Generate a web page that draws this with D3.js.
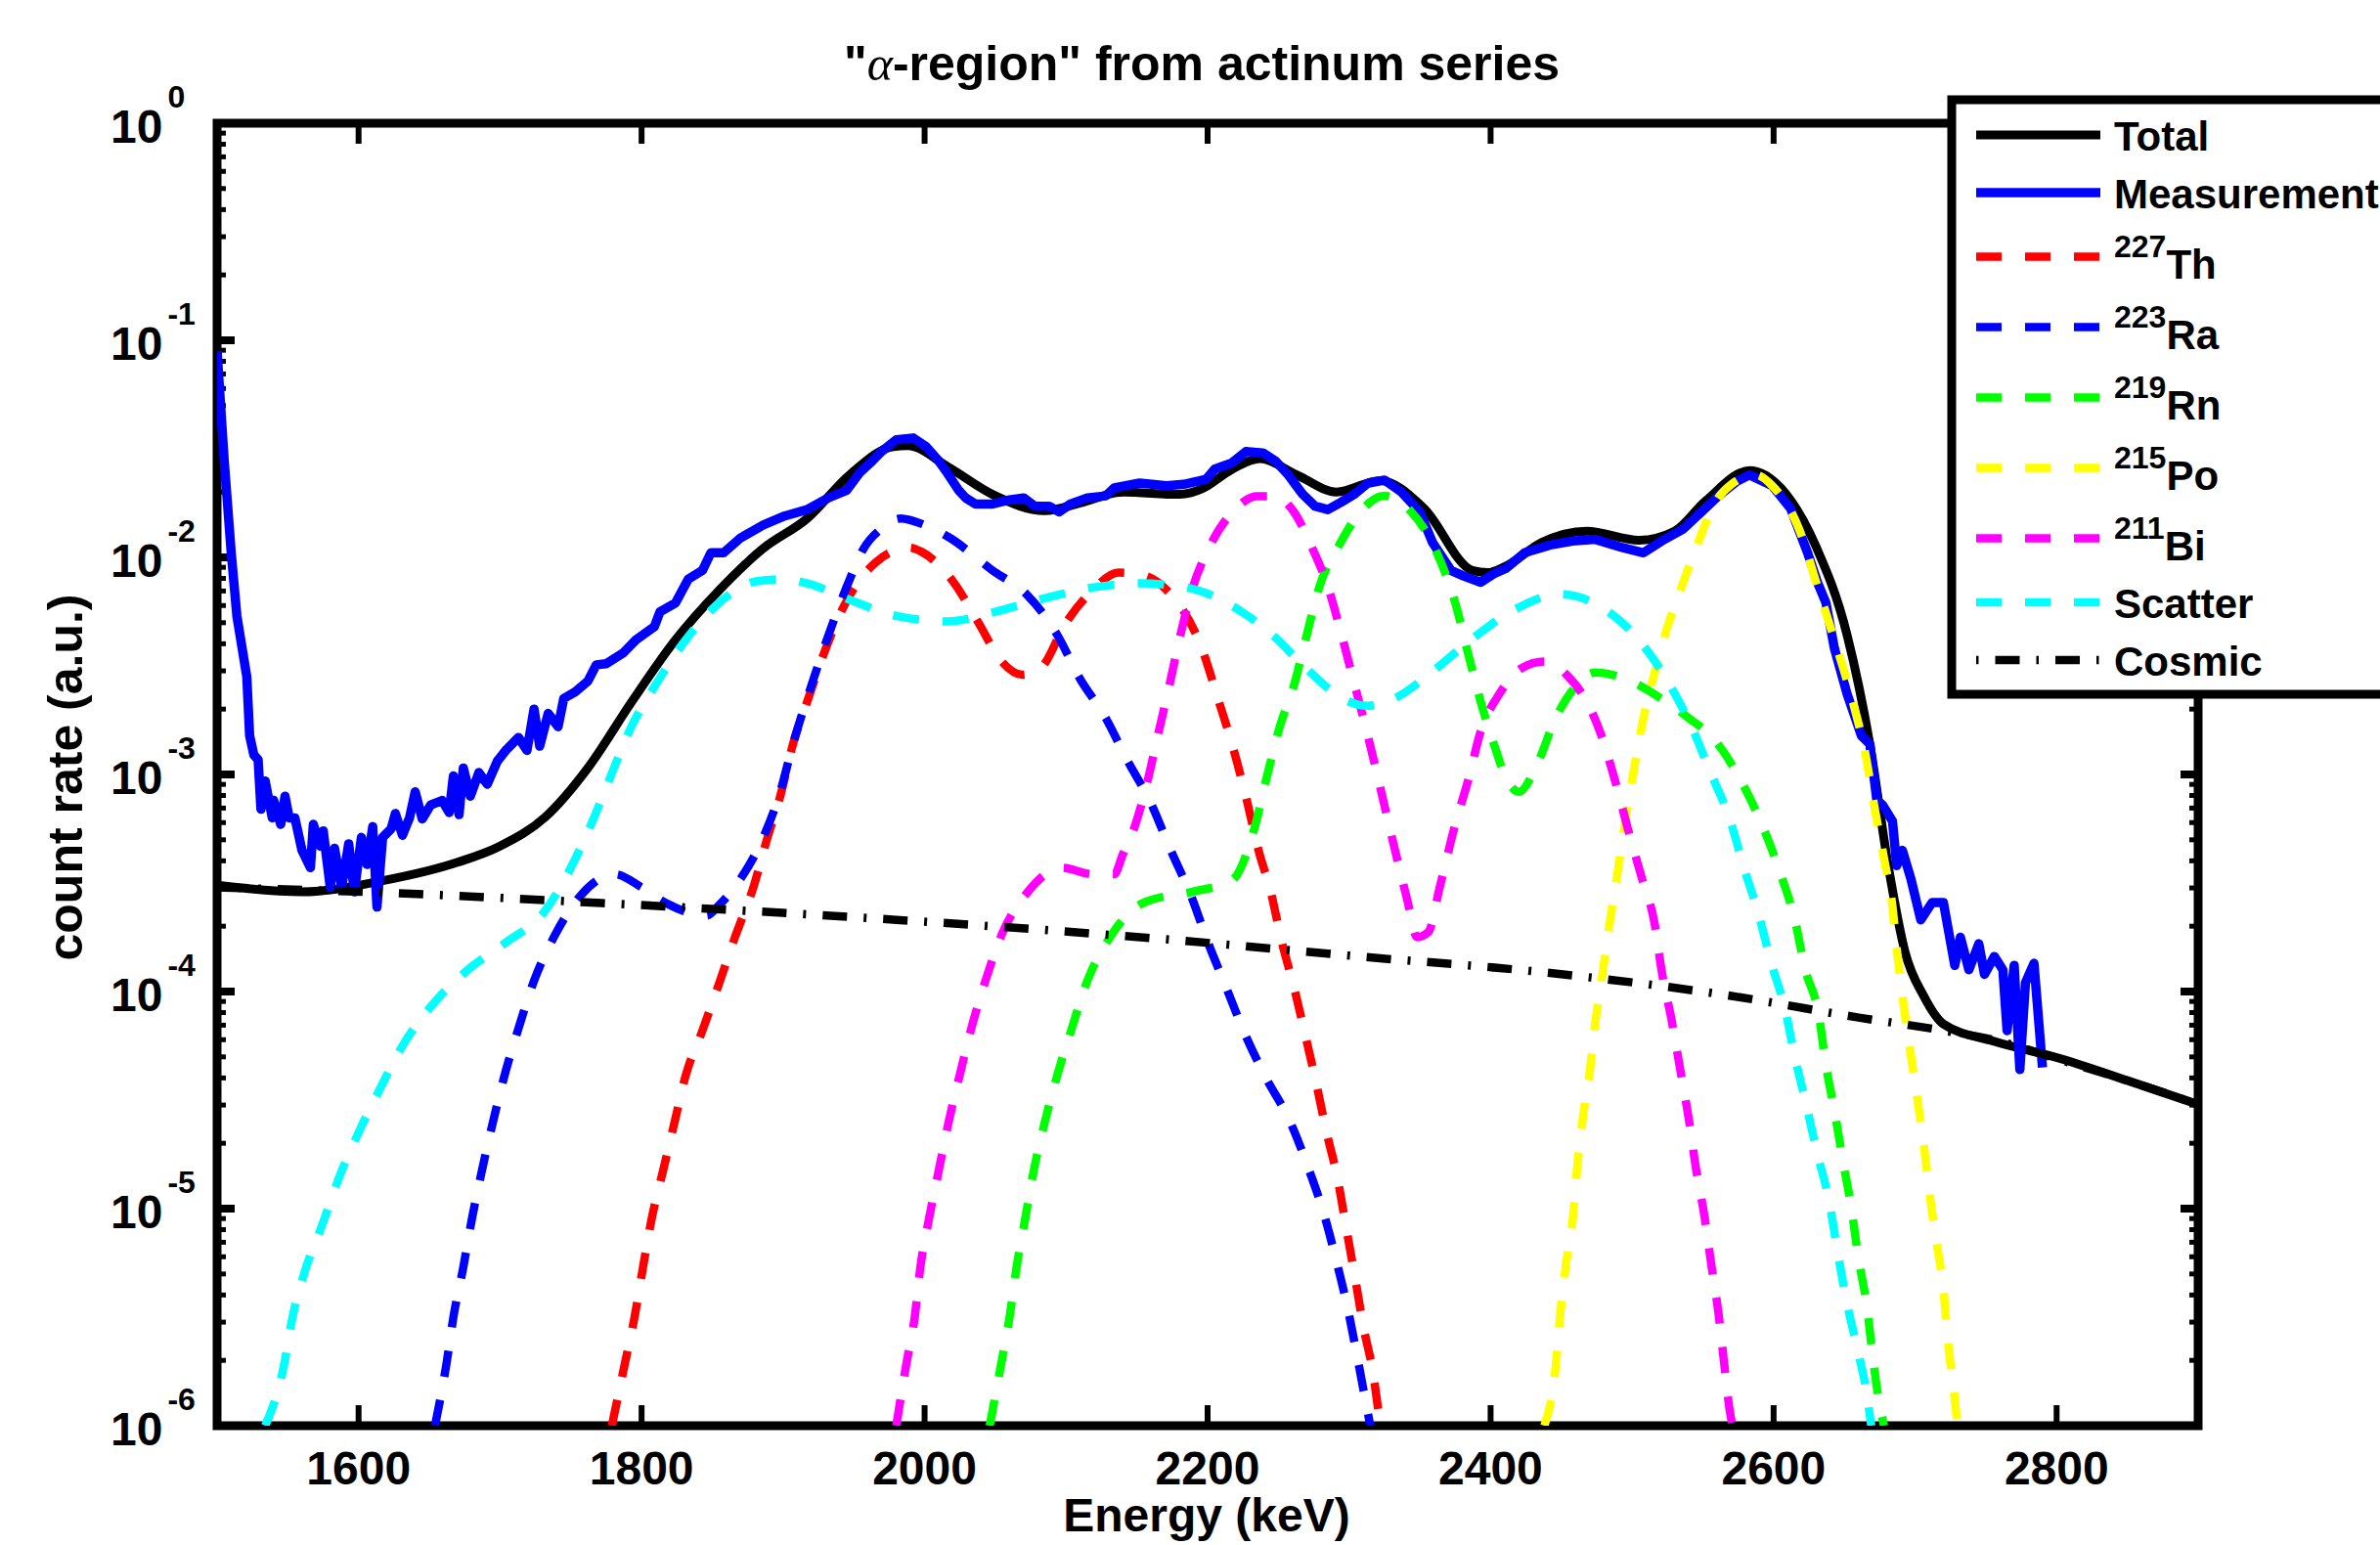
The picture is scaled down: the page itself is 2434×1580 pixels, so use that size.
<!DOCTYPE html>
<html><head><meta charset="utf-8">
<script src="https://cdn.jsdelivr.net/npm/d3@7"></script>
<style>
html,body{margin:0;padding:0;background:#fff;overflow:hidden}
svg{display:block}
text{font-family:"Liberation Sans",Arial,Helvetica,sans-serif;font-weight:bold;fill:#000}
</style></head><body>
<svg id="chart" width="2434" height="1580"></svg>
<script>
// ---------------- data ----------------
const energyTicks = [1600, 1800, 2000, 2200, 2400, 2600, 2800];
const decadeTicks = [1, 1e-1, 1e-2, 1e-3, 1e-4, 1e-5, 1e-6];
const decadeExponents = ["0", "-1", "-2", "-3", "-4", "-5", "-6"];

const total = [[1500,3.09e-4],[1560,2.88e-4],[1617,3.24e-4],[1670,3.94e-4],[1700,4.68e-4],[1732,6.37e-4],[1762,1.07e-3],[1793,2.16e-3],[1824,4.17e-3],[1855,7.08e-3],[1886,1.10e-2],[1917,1.51e-2],[1947,2.40e-2],[1978,3.24e-2],[1988,3.27e-2],[2017,2.60e-2],[2048,1.95e-2],[2085,1.64e-2],[2110,1.78e-2],[2140,2.00e-2],[2180,1.95e-2],[2196,2.07e-2],[2217,2.54e-2],[2237,2.85e-2],[2263,2.40e-2],[2291,2.00e-2],[2322,2.26e-2],[2353,1.68e-2],[2387,8.71e-3],[2398,8.51e-3],[2411,9.12e-3],[2436,1.17e-2],[2468,1.32e-2],[2505,1.20e-2],[2530,1.32e-2],[2552,1.82e-2],[2583,2.51e-2],[2605,2.09e-2],[2630,1.12e-2],[2652,4.37e-3],[2668,1.38e-3],[2681,3.80e-4],[2693,1.51e-4],[2706,9.55e-5],[2720,7.08e-5],[2756,5.89e-5],[2803,4.90e-5],[2850,3.89e-5],[2900,3.02e-5]];

const measurement = [[1500,8.91e-2],[1505,2.82e-2],[1510,1.05e-2],[1514,5.37e-3],[1521,2.82e-3],[1523,1.51e-3],[1526,1.23e-3],[1529,1.17e-3],[1531,6.92e-4],[1534,9.33e-4],[1539,6.31e-4],[1540,7.59e-4],[1545,5.89e-4],[1548,7.94e-4],[1551,6.31e-4],[1555,6.31e-4],[1560,4.47e-4],[1566,3.72e-4],[1568,5.89e-4],[1573,4.68e-4],[1575,5.50e-4],[1580,3.02e-4],[1583,4.57e-4],[1588,3.02e-4],[1593,4.79e-4],[1597,2.88e-4],[1602,5.13e-4],[1606,3.85e-4],[1610,5.75e-4],[1613,2.45e-4],[1617,5.13e-4],[1623,5.62e-4],[1626,6.61e-4],[1631,5.25e-4],[1636,6.31e-4],[1640,8.32e-4],[1645,6.24e-4],[1651,7.24e-4],[1659,7.59e-4],[1664,6.68e-4],[1667,9.84e-4],[1671,6.53e-4],[1674,1.07e-3],[1679,7.94e-4],[1685,1.02e-3],[1691,9.02e-4],[1698,1.15e-3],[1704,1.29e-3],[1713,1.48e-3],[1719,1.29e-3],[1724,2.00e-3],[1728,1.35e-3],[1734,1.91e-3],[1741,1.66e-3],[1745,2.24e-3],[1753,2.40e-3],[1762,2.69e-3],[1768,3.20e-3],[1775,3.24e-3],[1787,3.63e-3],[1796,4.17e-3],[1809,4.79e-3],[1813,5.62e-3],[1824,6.17e-3],[1833,7.94e-3],[1843,8.71e-3],[1849,1.05e-2],[1858,1.05e-2],[1870,1.23e-2],[1886,1.41e-2],[1901,1.55e-2],[1917,1.66e-2],[1932,1.88e-2],[1945,2.04e-2],[1954,2.45e-2],[1963,2.78e-2],[1970,3.09e-2],[1980,3.48e-2],[1992,3.55e-2],[2001,3.24e-2],[2010,2.78e-2],[2016,2.45e-2],[2024,2.04e-2],[2029,1.88e-2],[2036,1.76e-2],[2048,1.76e-2],[2060,1.84e-2],[2070,1.88e-2],[2078,1.72e-2],[2088,1.72e-2],[2095,1.62e-2],[2103,1.76e-2],[2115,1.88e-2],[2128,1.92e-2],[2134,2.09e-2],[2152,2.20e-2],[2171,2.14e-2],[2183,2.17e-2],[2199,2.29e-2],[2205,2.55e-2],[2217,2.72e-2],[2227,3.07e-2],[2239,3.03e-2],[2248,2.78e-2],[2257,2.40e-2],[2267,1.96e-2],[2276,1.72e-2],[2285,1.66e-2],[2294,1.79e-2],[2304,1.96e-2],[2313,2.19e-2],[2325,2.27e-2],[2337,2.00e-2],[2350,1.62e-2],[2359,1.17e-2],[2372,8.71e-3],[2381,8.20e-3],[2393,7.67e-3],[2402,8.38e-3],[2411,8.91e-3],[2424,1.05e-2],[2442,1.14e-2],[2458,1.19e-2],[2474,1.21e-2],[2493,1.11e-2],[2508,1.05e-2],[2521,1.19e-2],[2536,1.35e-2],[2549,1.62e-2],[2561,1.92e-2],[2574,2.24e-2],[2583,2.40e-2],[2599,2.14e-2],[2612,1.68e-2],[2624,1.05e-2],[2631,7.67e-3],[2637,6.17e-3],[2643,3.80e-3],[2652,2.34e-3],[2662,1.51e-3],[2668,1.38e-3],[2673,7.59e-4],[2677,7.24e-4],[2684,6.10e-4],[2687,3.80e-4],[2691,4.47e-4],[2697,3.31e-4],[2704,2.14e-4],[2712,2.57e-4],[2720,2.57e-4],[2728,1.32e-4],[2732,1.78e-4],[2738,1.26e-4],[2745,1.66e-4],[2749,1.20e-4],[2756,1.45e-4],[2762,1.26e-4],[2765,6.61e-5],[2770,1.32e-4],[2774,4.37e-5],[2778,1.10e-4],[2784,1.35e-4],[2790,4.47e-5]];

const th227 = [[1779,1.0e-6],[1788,1.91e-6],[1795,3.16e-6],[1801,5.37e-6],[1807,8.91e-6],[1815,1.48e-5],[1823,2.45e-5],[1831,4.07e-5],[1843,6.61e-5],[1855,1.10e-4],[1866,1.78e-4],[1879,3.02e-4],[1889,5.13e-4],[1898,7.94e-4],[1907,1.38e-3],[1917,2.16e-3],[1929,3.63e-3],[1941,5.62e-3],[1957,8.32e-3],[1966,9.55e-3],[1989,1.11e-2],[1998,1.06e-2],[2020,7.76e-3],[2038,5.01e-3],[2054,3.34e-3],[2069,2.88e-3],[2082,3.09e-3],[2100,5.01e-3],[2119,7.08e-3],[2137,8.51e-3],[2153,8.32e-3],[2171,7.08e-3],[2196,3.80e-3],[2208,2.16e-3],[2217,1.40e-3],[2227,7.94e-4],[2236,4.47e-4],[2245,2.82e-4],[2252,1.74e-4],[2261,1.05e-4],[2269,6.31e-5],[2277,3.72e-5],[2284,2.26e-5],[2292,1.36e-5],[2298,8.13e-6],[2304,4.90e-6],[2310,2.88e-6],[2317,1.74e-6],[2322,1.0e-6]];

const ra223 = [[1654,1.0e-6],[1662,1.91e-6],[1667,3.16e-6],[1674,5.37e-6],[1680,8.91e-6],[1687,1.48e-5],[1695,2.51e-5],[1703,4.07e-5],[1713,6.76e-5],[1724,1.12e-4],[1738,1.78e-4],[1758,2.82e-4],[1781,3.47e-4],[1800,3.02e-4],[1818,2.54e-4],[1846,2.24e-4],[1855,2.51e-4],[1870,3.31e-4],[1886,5.13e-4],[1898,8.32e-4],[1907,1.38e-3],[1920,2.57e-3],[1932,4.37e-3],[1945,7.33e-3],[1957,1.10e-2],[1969,1.35e-2],[1983,1.51e-2],[2000,1.41e-2],[2017,1.24e-2],[2048,8.71e-3],[2072,6.76e-3],[2094,4.37e-3],[2109,2.82e-3],[2128,1.82e-3],[2143,1.17e-3],[2159,7.59e-4],[2174,4.47e-4],[2189,2.69e-4],[2200,1.70e-4],[2213,1.05e-4],[2226,6.46e-5],[2241,4.03e-5],[2258,2.54e-5],[2271,1.55e-5],[2282,9.55e-6],[2291,5.75e-6],[2299,3.47e-6],[2306,2.04e-6],[2312,1.26e-6],[2315,1.0e-6]];

const rn219 = [[2046,1.0e-6],[2054,1.91e-6],[2060,3.16e-6],[2065,5.37e-6],[2071,8.91e-6],[2077,1.48e-5],[2085,2.51e-5],[2094,4.17e-5],[2104,6.76e-5],[2115,1.12e-4],[2131,1.78e-4],[2155,2.57e-4],[2189,2.88e-4],[2217,3.24e-4],[2233,5.62e-4],[2242,9.84e-4],[2251,1.66e-3],[2261,2.57e-3],[2270,4.37e-3],[2279,7.33e-3],[2293,1.14e-2],[2310,1.68e-2],[2325,1.92e-2],[2344,1.62e-2],[2362,1.05e-2],[2375,6.17e-3],[2384,3.63e-3],[2393,2.16e-3],[2402,1.40e-3],[2412,9.33e-4],[2420,8.32e-4],[2433,1.12e-3],[2446,1.82e-3],[2458,2.45e-3],[2474,2.95e-3],[2499,2.69e-3],[2524,2.16e-3],[2540,1.82e-3],[2558,1.45e-3],[2577,9.33e-4],[2593,5.62e-4],[2605,3.47e-4],[2615,2.14e-4],[2622,1.29e-4],[2632,7.76e-5],[2637,4.57e-5],[2643,2.82e-5],[2649,1.66e-5],[2655,1.0e-5],[2660,5.89e-6],[2666,3.51e-6],[2670,2.09e-6],[2675,1.24e-6],[2678,1.0e-6]];

const po215 = [[2438,1.0e-6],[2446,1.88e-6],[2449,3.16e-6],[2453,5.37e-6],[2458,8.91e-6],[2461,1.51e-5],[2465,2.57e-5],[2470,4.27e-5],[2474,7.24e-5],[2479,1.20e-4],[2484,2.04e-4],[2490,3.63e-4],[2496,6.61e-4],[2502,1.12e-3],[2508,1.82e-3],[2516,2.95e-3],[2524,4.57e-3],[2533,6.76e-3],[2546,1.14e-2],[2558,1.76e-2],[2571,2.19e-2],[2587,2.40e-2],[2599,2.14e-2],[2618,1.35e-2],[2631,7.33e-3],[2643,4.17e-3],[2656,2.16e-3],[2665,1.23e-3],[2671,7.24e-4],[2678,4.11e-4],[2684,2.45e-4],[2687,1.58e-4],[2691,9.55e-5],[2696,5.62e-5],[2701,3.39e-5],[2706,2.00e-5],[2710,1.20e-5],[2715,7.08e-6],[2720,4.27e-6],[2723,2.51e-6],[2727,1.51e-6],[2730,1.0e-6]];

const bi211 = [[1980,1.0e-6],[1987,1.91e-6],[1993,3.16e-6],[1997,5.37e-6],[2003,8.91e-6],[2010,1.50e-5],[2017,2.51e-5],[2025,4.17e-5],[2033,6.76e-5],[2043,1.12e-4],[2055,1.86e-4],[2073,2.88e-4],[2097,3.72e-4],[2119,3.47e-4],[2134,3.47e-4],[2140,4.27e-4],[2149,5.89e-4],[2157,9.02e-4],[2165,1.53e-3],[2173,2.57e-3],[2180,4.17e-3],[2189,7.08e-3],[2202,1.14e-2],[2220,1.68e-2],[2235,1.91e-2],[2248,1.91e-2],[2261,1.62e-2],[2273,1.14e-2],[2285,7.33e-3],[2294,4.57e-3],[2304,2.57e-3],[2313,1.53e-3],[2322,8.71e-4],[2331,4.90e-4],[2341,2.66e-4],[2348,1.78e-4],[2356,1.88e-4],[2364,3.02e-4],[2375,5.89e-4],[2384,9.33e-4],[2393,1.58e-3],[2406,2.34e-3],[2422,3.09e-3],[2438,3.31e-3],[2455,2.82e-3],[2468,2.16e-3],[2478,1.53e-3],[2488,9.33e-4],[2497,5.62e-4],[2507,3.31e-4],[2516,2.04e-4],[2521,1.23e-4],[2528,7.33e-5],[2534,4.37e-5],[2540,2.60e-5],[2545,1.55e-5],[2551,9.33e-6],[2556,5.50e-6],[2561,3.31e-6],[2565,1.95e-6],[2569,1.17e-6],[2571,1.0e-6]];

const scatter = [[1534,1.0e-6],[1547,1.86e-6],[1553,3.09e-6],[1562,5.13e-6],[1574,8.32e-6],[1586,1.38e-5],[1600,2.24e-5],[1615,3.55e-5],[1631,5.62e-5],[1651,8.51e-5],[1676,1.24e-4],[1704,1.68e-4],[1731,2.32e-4],[1750,3.72e-4],[1765,6.03e-4],[1778,9.77e-4],[1792,1.62e-3],[1811,2.66e-3],[1830,4.07e-3],[1853,6.03e-3],[1881,7.76e-3],[1900,7.94e-3],[1917,7.59e-3],[1949,6.31e-3],[1980,5.37e-3],[2016,5.07e-3],[2050,5.62e-3],[2084,6.46e-3],[2117,7.24e-3],[2152,7.59e-3],[2186,7.24e-3],[2219,5.89e-3],[2247,4.32e-3],[2271,3.02e-3],[2298,2.19e-3],[2313,2.07e-3],[2332,2.24e-3],[2360,3.02e-3],[2388,4.27e-3],[2417,5.75e-3],[2449,6.76e-3],[2481,5.75e-3],[2506,4.07e-3],[2526,2.63e-3],[2542,1.66e-3],[2556,1.0e-3],[2569,6.24e-4],[2579,3.72e-4],[2589,2.32e-4],[2598,1.38e-4],[2608,8.32e-5],[2615,5.01e-5],[2623,3.02e-5],[2631,1.78e-5],[2639,1.10e-5],[2645,6.46e-6],[2651,3.89e-6],[2659,2.29e-6],[2666,1.38e-6],[2669,1.0e-6]];

const cosmic = [[1500,3.02e-4],[1620,2.85e-4],[1780,2.54e-4],[1980,2.14e-4],[2180,1.72e-4],[2307,1.45e-4],[2430,1.24e-4],[2570,9.55e-5],[2660,7.59e-5],[2720,6.61e-5],[2760,5.89e-5],[2800,4.90e-5],[2850,3.89e-5],[2900,3.02e-5]];

const seriesNames = ["Total", "Measurement", "Th", "Ra", "Rn", "Po", "Bi", "Scatter", "Cosmic"];
const seriesMass = ["", "", "227", "223", "219", "215", "211", "", ""];
const seriesColors = ["#000000", "#0000ff", "#ff0000", "#0000ff", "#00ff00", "#ffff00", "#ff00ff", "#00ffff", "#000000"];
const seriesData = [total, measurement, th227, ra223, rn219, po215, bi211, scatter, cosmic];

// ---------------- layout ----------------
const L = 222, R = 2248, T = 126, B = 1458;
const svg = d3.select("#chart");
const x = d3.scaleLinear().domain([1500, 2900]).range([L, R]);
const y = d3.scaleLog().domain([1e-6, 1]).range([B, T]);

const styles = [
  {w: 9, dash: null, curve: d3.curveMonotoneX},
  {w: 9.5, dash: null, curve: d3.curveLinear},
  {w: 8.5, dash: "27,24"}, {w: 8.5, dash: "27,24"}, {w: 8.5, dash: "27,24"},
  {w: 8.5, dash: "27,24"}, {w: 8.5, dash: "27,24"}, {w: 8.5, dash: "27,24"},
  {w: 8.5, dash: "25,17,3,17"}
];

svg.append("defs").append("clipPath").attr("id", "plotclip")
  .append("rect").attr("x", L).attr("y", T).attr("width", R - L).attr("height", B - T);

// axes box
const axes = svg.append("g");
axes.append("rect").attr("x", L).attr("y", T).attr("width", R - L).attr("height", B - T)
  .attr("fill", "none").attr("stroke", "#000").attr("stroke-width", 9);

// x ticks (inward, top & bottom)
energyTicks.forEach(t => {
  axes.append("line").attr("x1", x(t)).attr("x2", x(t)).attr("y1", B).attr("y2", B - 21)
    .attr("stroke", "#000").attr("stroke-width", 6);
  axes.append("line").attr("x1", x(t)).attr("x2", x(t)).attr("y1", T).attr("y2", T + 21)
    .attr("stroke", "#000").attr("stroke-width", 6);
  axes.append("text").attr("x", x(t)).attr("y", 1518).attr("text-anchor", "middle")
    .attr("font-size", 48).text(t);
});

// y ticks (log, major + minor, left & right)
decadeTicks.forEach((t, i) => {
  const yy = y(t);
  axes.append("line").attr("x1", L).attr("x2", L + 18).attr("y1", yy).attr("y2", yy)
    .attr("stroke", "#000").attr("stroke-width", 8);
  axes.append("line").attr("x1", R).attr("x2", R - 18).attr("y1", yy).attr("y2", yy)
    .attr("stroke", "#000").attr("stroke-width", 8);
  const lab = axes.append("text").attr("x", 113).attr("y", yy + 20).attr("font-size", 48);
  lab.append("tspan").text("10");
  lab.append("tspan").attr("font-size", 32).attr("dx", 5).attr("dy", -36).text(decadeExponents[i]);
  if (t < 1) {
    for (let m = 2; m <= 9; m++) {
      const ym = y(t * m);
      axes.append("line").attr("x1", L).attr("x2", L + 9).attr("y1", ym).attr("y2", ym)
        .attr("stroke", "#000").attr("stroke-width", 5);
      axes.append("line").attr("x1", R).attr("x2", R - 9).attr("y1", ym).attr("y2", ym)
        .attr("stroke", "#000").attr("stroke-width", 5);
    }
  }
});

// curves
const plot = svg.append("g").attr("clip-path", "url(#plotclip)");
seriesData.forEach((d, i) => {
  const st = styles[i];
  const line = d3.line().x(p => x(p[0])).y(p => y(p[1])).curve(st.curve || d3.curveMonotoneX);
  const p = plot.append("path").attr("d", line(d)).attr("fill", "none")
    .attr("stroke", seriesColors[i]).attr("stroke-width", st.w)
    .attr("stroke-linejoin", "round");
  if (st.dash) p.attr("stroke-dasharray", st.dash);
});

// title & axis labels
const title = svg.append("text").attr("x", 1229).attr("y", 82).attr("text-anchor", "middle").attr("font-size", 50);
title.append("tspan").text("\"");
title.append("tspan").attr("font-family", "'Liberation Serif', 'DejaVu Serif', serif")
  .attr("font-weight", "normal").attr("font-style", "italic").text("α");
title.append("tspan").text("-region\" from actinum series");

svg.append("text").attr("x", 1234).attr("y", 1566).attr("text-anchor", "middle").attr("font-size", 48).text("Energy (keV)");
svg.append("text").attr("transform", "translate(84,795) rotate(-90)").attr("text-anchor", "middle")
  .attr("font-size", 50).text("count rate (a.u.)");

// legend
const lg = svg.append("g");
lg.append("rect").attr("x", 1996).attr("y", 102).attr("width", 700).attr("height", 608)
  .attr("fill", "#fff").attr("stroke", "#000").attr("stroke-width", 9);
let cy = 138, prevH = null;
seriesNames.forEach((name, i) => {
  const h = seriesMass[i] ? 72 : 59;
  if (prevH !== null) cy += (prevH + h) / 2;
  prevH = h;
  const st = styles[i];
  const ln = lg.append("line").attr("x1", 2021).attr("x2", 2148).attr("y1", cy).attr("y2", cy)
    .attr("stroke", seriesColors[i]).attr("stroke-width", st.w);
  if (st.dash) ln.attr("stroke-dasharray", i === 8 ? "2.5,17,25,17" : "26,24");
  const tx = lg.append("text").attr("x", 2162).attr("font-size", 42);
  if (seriesMass[i]) {
    tx.attr("y", cy + 22);
    tx.append("tspan").attr("font-size", 32).attr("dy", -22).text(seriesMass[i]);
    tx.append("tspan").attr("dy", 22).text(name);
  } else {
    tx.attr("y", cy + 16).text(name);
  }
});
</script>
</body></html>
